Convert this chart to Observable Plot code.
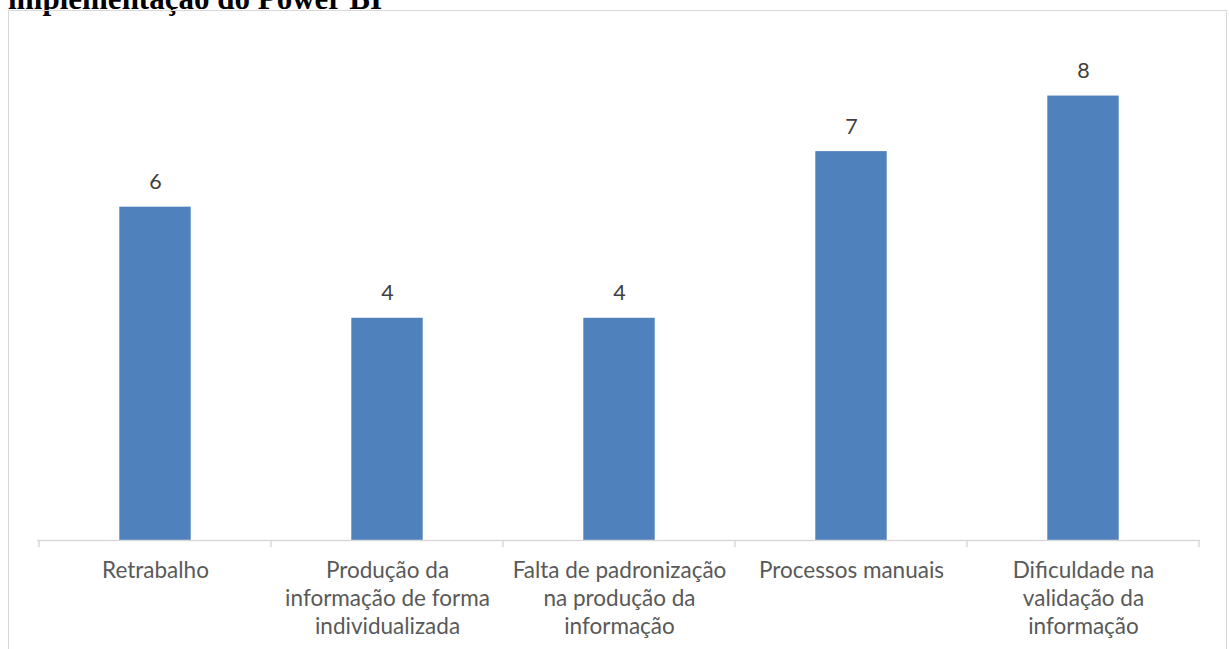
<!DOCTYPE html>
<html>
<head>
<meta charset="utf-8">
<script src="https://cdn.jsdelivr.net/npm/d3@7"></script>
<script src="https://cdn.jsdelivr.net/npm/@observablehq/plot@0.6"></script>
<style>
  html, body { margin: 0; padding: 0; background: #fff; overflow: hidden; }
  #wrap { position: relative; width: 1229px; height: 649px; overflow: hidden; }
  #title { position: absolute; left: 8px; top: -18px; font-family: "Liberation Serif", "Times New Roman", serif; font-weight: bold; font-size: 31px; color: #000; white-space: nowrap; line-height: 34px; }
  #frame { position: absolute; left: 8px; top: 10px; width: 1219px; height: 700px; border: 1.5px solid #d9d9d9; box-sizing: border-box; }
  #chart { position: absolute; left: 0; top: 0; }
</style>
</head>
<body>
<div id="wrap">
  <div id="title">implementação do Power BI</div>
  <div id="frame"></div>
  <div id="chart"></div>
</div>
<script>
const categories = [
  "Retrabalho",
  "Produção da informação de forma individualizada",
  "Falta de padronização na produção da informação",
  "Processos manuais",
  "Dificuldade na validação da informação"
];
const tickLabels = [
  "Retrabalho",
  "Produção da\ninformação de forma\nindividualizada",
  "Falta de padronização\nna produção da\ninformação",
  "Processos manuais",
  "Dificuldade na\nvalidação da\ninformação"
];
const values = [6, 4, 4, 7, 8];

const data = categories.map((c, i) => ({category: c, value: values[i]}));
const labelOf = new Map(categories.map((c, i) => [c, tickLabels[i]]));

const W = 1229, H = 649;
const mL = 37, mR = 29, mT = 40, mB = 109;
const step = (W - mL - mR) / categories.length;
const barW = 72;
const inset = (step - barW) / 2;
const FS = 22.5;

// boundary tick marks drawn from the band scale
function boundaryTicks(index, scales, values, dimensions) {
  const x = scales.x, y = scales.y;
  const g = d3.create("svg:g");
  const y0 = y(0);
  const edges = categories.map(c => x(c)).concat([x(categories[categories.length - 1]) + x.step()]);
  for (const e of edges) {
    g.append("line")
      .attr("x1", e).attr("x2", e)
      .attr("y1", y0).attr("y2", y0 + 7)
      .attr("stroke", "#d9d9d9").attr("stroke-width", 1.5);
  }
  return g.node();
}

const chart = Plot.plot({
  width: W,
  height: H,
  marginLeft: mL,
  marginRight: mR,
  marginTop: mT,
  marginBottom: mB,
  style: {fontFamily: "Lato, 'Open Sans', sans-serif", background: "transparent"},
  x: {domain: categories, padding: 0},
  y: {domain: [0, 9], axis: null},
  marks: [
    Plot.barY(data, {x: "category", y: "value", fill: "#4F81BD", insetLeft: inset, insetRight: inset}),
    Plot.ruleY([0], {stroke: "#d9d9d9", strokeWidth: 1.5}),
    boundaryTicks,
    Plot.text(data, {x: "category", y: "value", text: d => String(d.value), dy: -25, fontSize: 21.5, fill: "#404040"}),
    Plot.axisX({
      tickSize: 0,
      tickPadding: 18,
      fontSize: FS,
      lineHeight: 28 / FS,
      color: "#595959",
      tickFormat: d => labelOf.get(d),
      label: null
    })
  ]
});
document.getElementById("chart").appendChild(chart);
</script>
</body>
</html>
